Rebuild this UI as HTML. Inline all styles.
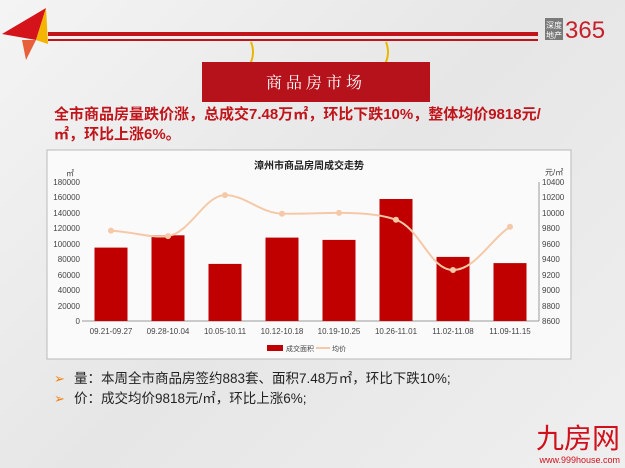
<!DOCTYPE html>
<html><head><meta charset="utf-8"><style>
body{margin:0;width:625px;height:468px;overflow:hidden;background:linear-gradient(135deg,#f4f4f4,#e6e6e6 50%,#efefef);font-family:"Liberation Sans","Noto Sans CJK SC",sans-serif;position:relative}
.a{position:absolute}
</style></head><body>
<svg class="a" style="left:0;top:0" width="625" height="468">
<polygon points="2,34 46,8 36,40" fill="#d4141a"/>
<polygon points="46,8 36,40 48,44" fill="#f4b400"/>
<polygon points="22,40 36,40 26,60" fill="#e8603a"/>
<rect x="48" y="32" width="490" height="4" fill="#c0141a"/>
<rect x="48" y="39" width="490" height="2" fill="#c0141a"/>
<path d="M251 42 q4 10 0 20 q-4 8 0 10" stroke="#e8b800" stroke-width="2" fill="none"/>
<path d="M386 42 q4 10 0 20 q-4 8 0 10" stroke="#e8b800" stroke-width="2" fill="none"/>
<rect x="202" y="62" width="228" height="40" fill="#b5121b"/>
<rect x="545" y="18" width="18" height="22" fill="#7a7a7a"/>
<text x="554" y="28" font-size="8" fill="#fff" text-anchor="middle">深度</text>
<text x="554" y="38" font-size="8" fill="#fff" text-anchor="middle">地产</text>
<text x="565" y="38" font-size="24" fill="#c8202a">365</text>
<text x="316" y="88" font-size="16" fill="#fff" text-anchor="middle" letter-spacing="4" font-family="Noto Serif CJK SC,serif">商品房市场</text>
<rect x="47" y="150" width="524" height="209" fill="#fafafa" stroke="#bbb"/>
<text x="309" y="169" font-size="10" font-weight="bold" text-anchor="middle" fill="#222">漳州市商品房周成交走势</text>
<g font-size="8" fill="#444">
<text x="66" y="176">㎡</text><text x="545" y="175">元/㎡</text>
<g text-anchor="end">
<text x="80" y="185">180000</text><text x="80" y="200">160000</text><text x="80" y="216">140000</text><text x="80" y="231">120000</text><text x="80" y="247">100000</text><text x="80" y="262">80000</text><text x="80" y="278">60000</text><text x="80" y="293">40000</text><text x="80" y="309">20000</text><text x="80" y="324">0</text>
</g>
<g>
<text x="542" y="185">10400</text><text x="542" y="200">10200</text><text x="542" y="216">10000</text><text x="542" y="231">9800</text><text x="542" y="247">9600</text><text x="542" y="262">9400</text><text x="542" y="278">9200</text><text x="542" y="293">9000</text><text x="542" y="309">8800</text><text x="542" y="324">8600</text>
</g>
<g text-anchor="middle">
<text x="111" y="334">09.21-09.27</text><text x="168" y="334">09.28-10.04</text><text x="225" y="334">10.05-10.11</text><text x="282" y="334">10.12-10.18</text><text x="339" y="334">10.19-10.25</text><text x="396" y="334">10.26-11.01</text><text x="453" y="334">11.02-11.08</text><text x="510" y="334">11.09-11.15</text>
</g>
</g>
<line x1="82" y1="321" x2="539" y2="321" stroke="#999"/>
<line x1="539" y1="182" x2="539" y2="321" stroke="#999"/>
<g fill="#c00000">
<rect x="94.5" y="247.6" width="33" height="73.4"/><rect x="151.5" y="235.3" width="33" height="85.7"/><rect x="208.5" y="263.9" width="33" height="57.1"/><rect x="265.5" y="237.6" width="33" height="83.4"/><rect x="322.5" y="239.9" width="33" height="81.1"/><rect x="379.5" y="199" width="33" height="122"/><rect x="436.5" y="256.9" width="33" height="64.1"/><rect x="493.5" y="263.1" width="33" height="57.9"/>
</g>
<path d="M111 230.6 C140 233,150 238,168 236.1 C190 233,205 195,225 195.1 C245 195,260 213,282 213.7 C305 214,320 213,339 212.9 C360 213,380 214,396 219.8 C420 228,430 270,453 270 C475 270,490 240,510 226.8" stroke="#f5c9a8" stroke-width="2" fill="none"/>
<g fill="#f5c9a8">
<circle cx="111" cy="230.6" r="3"/><circle cx="168" cy="236.1" r="3"/><circle cx="225" cy="195.1" r="3"/><circle cx="282" cy="213.7" r="3"/><circle cx="339" cy="212.9" r="3"/><circle cx="396" cy="219.8" r="3"/><circle cx="453" cy="270" r="3"/><circle cx="510" cy="226.8" r="3"/>
</g>
<rect x="267" y="345" width="16" height="6" fill="#c00000"/>
<text x="286" y="351" font-size="7" fill="#444">成交面积</text>
<line x1="316" y1="348" x2="330" y2="348" stroke="#f5c9a8" stroke-width="2"/>
<text x="332" y="351" font-size="7" fill="#444">均价</text>
<text x="54" y="383" font-size="13" fill="#f08010">➢</text>
<text x="54" y="403" font-size="13" fill="#f08010">➢</text>
<text x="620" y="448" font-size="28" fill="#d0101a" text-anchor="end">九房网</text>
<text x="620" y="463" font-size="9" fill="#d0101a" text-anchor="end">www.999house.com</text>
</svg>
<div class="a" style="left:54px;top:105px;font-size:15px;font-weight:bold;color:#c0141a;line-height:20px;width:560px;white-space:nowrap">全市商品房量跌价涨，总成交7.48万㎡，环比下跌10%，整体均价9818元/<br>㎡，环比上涨6%。</div>
<div class="a" style="left:74px;top:369px;font-size:13.5px;color:#222;line-height:20px">量：本周全市商品房签约883套、面积7.48万㎡，环比下跌10%;<br>价：成交均价9818元/㎡，环比上涨6%;</div>
</body></html>
